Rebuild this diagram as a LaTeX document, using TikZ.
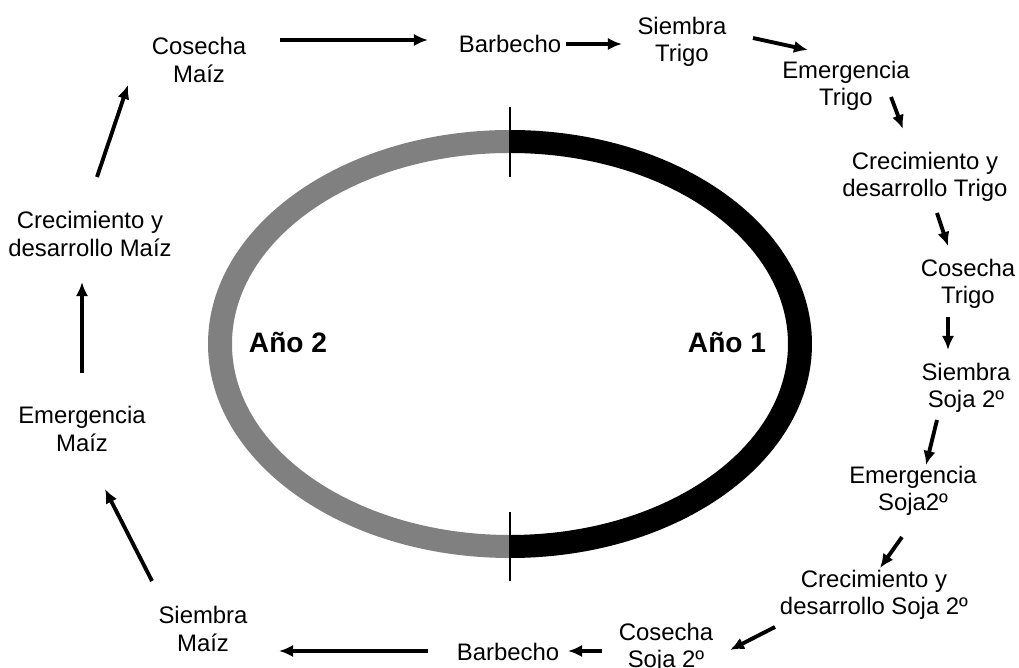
\documentclass[tikz,border=0pt]{standalone}
\usepackage{fontspec}
\setmainfont{Liberation Sans}
\usetikzlibrary{arrows.meta}
\begin{document}
\begin{tikzpicture}[x=0.02cm,y=-0.02cm,
    every node/.style={align=center,inner sep=0pt,font=\fontsize{13.6}{15.6}\selectfont},
    anio/.style={font=\fontsize{16}{18}\selectfont\bfseries}]
      \useasboundingbox (0,0) rectangle (1019,668);
      \begin{scope}
        \clip (510,0) rectangle (1019,668);
        \fill[black,even odd rule] (510,344) ellipse [x radius=302,y radius=214]
          (510,344) ellipse [x radius=278,y radius=191];
      \end{scope}
      \begin{scope}
        \clip (0,0) rectangle (510,668);
        \fill[gray,even odd rule] (510,344) ellipse [x radius=302,y radius=214]
          (510,344) ellipse [x radius=278,y radius=191];
      \end{scope}
      \draw[line width=0.7pt] (510,107) -- (510,177);
      \draw[line width=0.7pt] (510,512) -- (510,581);
      \draw
        (288,343) node[anio] (a2){Año 2}
        (727,343) node[anio] (a1){Año 1};
      \draw
        (199,60) node (cm){Cosecha\\Maíz}
        (510,44) node (bt){Barbecho}
        (682,42) node (st){Siembra\\Trigo}
        (846,86) node (et){Emergencia\\Trigo}
        (925,177) node (ct){Crecimiento y\\desarrollo Trigo}
        (968,284) node (kt){Cosecha\\Trigo}
        (966,388) node (ss){Siembra\\Soja 2º}
        (913,491) node (es){Emergencia\\Soja2º}
        (874,595) node (cs){Crecimiento y\\desarrollo Soja 2º}
        (666,648) node (ks){Cosecha\\Soja 2º}
        (508,652) node (bb){Barbecho}
        (203,629) node (sm){Siembra\\Maíz}
        (82,429) node (em){Emergencia\\Maíz}
        (90,234) node (cz){Crecimiento y\\desarrollo Maíz};
      \begin{scope}[-{Latex[length=8pt,width=7pt]},line width=2.2pt]
        \draw ([shift={(81,-20)}]cm.center) to ([shift={(-82,-4)}]bt.center);
        \draw ([shift={(56,0)}]bt.center) to ([shift={(-60,2)}]st.center);
        \draw ([shift={(71,-4)}]st.center) to ([shift={(-38,-36)}]et.center);
        \draw ([shift={(45,11)}]et.center) to ([shift={(-22,-48)}]ct.center);
        \draw ([shift={(12,36)}]ct.center) to ([shift={(-20,-38)}]kt.center);
        \draw ([shift={(-20,33)}]kt.center) to ([shift={(-18,-38)}]ss.center);
        \draw ([shift={(-29,32)}]ss.center) to ([shift={(13,-26)}]es.center);
        \draw ([shift={(-11,46)}]es.center) to ([shift={(6,-27)}]cs.center);
        \draw ([shift={(-99,32)}]cs.center) to ([shift={(64,2)}]ks.center);
        \draw ([shift={(-64,3)}]ks.center) to ([shift={(60,-1)}]bb.center);
        \draw ([shift={(-80,-1)}]bb.center) to ([shift={(76,22)}]sm.center);
        \draw ([shift={(-51,-48)}]sm.center) to ([shift={(23,60)}]em.center);
        \draw ([shift={(0,-56)}]em.center) to ([shift={(-8,48)}]cz.center);
        \draw ([shift={(7,-57)}]cz.center) to ([shift={(-71,25)}]cm.center);
      \end{scope}
    \end{tikzpicture}
\end{document}
